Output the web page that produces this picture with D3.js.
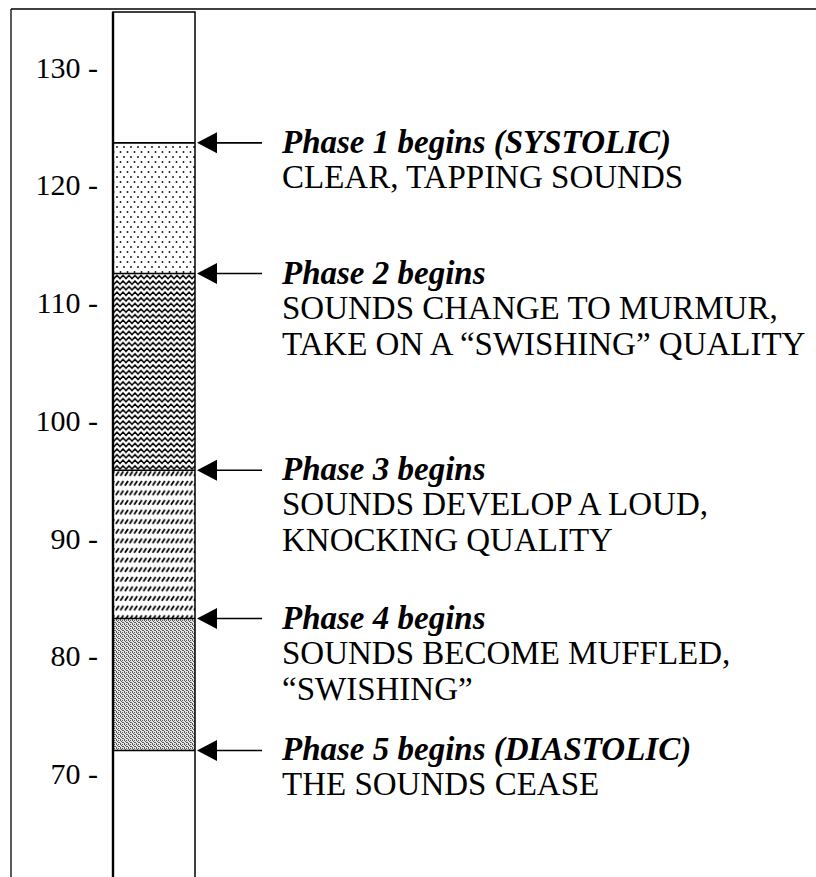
<!DOCTYPE html>
<html><head><meta charset="utf-8">
<script src="https://cdn.jsdelivr.net/npm/d3@7"></script>
<style>html,body{margin:0;padding:0;background:#fff;} svg{display:block;}</style>
</head><body><script>
// ---- data ----
const tickValues = [130, 120, 110, 100, 90, 80, 70];
const phaseTitles = [
  "Phase 1 begins (SYSTOLIC)",
  "Phase 2 begins",
  "Phase 3 begins",
  "Phase 4 begins",
  "Phase 5 begins (DIASTOLIC)"
];
const phaseValues = [123.6, 112.5, 95.8, 83.2, 72.0];
const phaseDescriptions = [
  ["CLEAR, TAPPING SOUNDS"],
  ["SOUNDS CHANGE TO MURMUR,", "TAKE ON A \u201CSWISHING\u201D QUALITY"],
  ["SOUNDS DEVELOP A LOUD,", "KNOCKING QUALITY"],
  ["SOUNDS BECOME MUFFLED,", "\u201CSWISHING\u201D"],
  ["THE SOUNDS CEASE"]
];
const bandPatterns = ["dots", "zigzag", "slashes", "stipple"];

// ---- layout ----
const W = 816, H = 877;
const svg = d3.select("body").append("svg").attr("width", W).attr("height", H);
const y = d3.scaleLinear().domain([70, 130]).range([774, 67.5]);
const colX0 = 113, colX1 = 195, colTop = 12;
const serif = "'Liberation Serif','Times New Roman',serif";

const defs = svg.append("defs");
// dots
const pDots = defs.append("pattern").attr("id", "dots").attr("patternUnits", "userSpaceOnUse")
  .attr("width", 7).attr("height", 10);
pDots.append("rect").attr("width", 7).attr("height", 10).attr("fill", "#fff");
pDots.append("circle").attr("cx", 1.5).attr("cy", 2).attr("r", 0.95).attr("fill", "#111");
pDots.append("circle").attr("cx", 5).attr("cy", 7).attr("r", 0.95).attr("fill", "#111");
// zigzag
const pZig = defs.append("pattern").attr("id", "zigzag").attr("patternUnits", "userSpaceOnUse")
  .attr("width", 6).attr("height", 5.6);
pZig.append("rect").attr("width", 6).attr("height", 5.6).attr("fill", "#fff");
pZig.append("path").attr("d", "M-3,1 L0,4.2 L3,1 L6,4.2 L9,1").attr("fill", "none")
  .attr("stroke", "#000").attr("stroke-width", 1.5);
// slashes
const pSl = defs.append("pattern").attr("id", "slashes").attr("patternUnits", "userSpaceOnUse")
  .attr("width", 4.6).attr("height", 9.6);
pSl.append("rect").attr("width", 4.6).attr("height", 9.6).attr("fill", "#fff");
pSl.append("line").attr("x1", 0.8).attr("y1", 5.5).attr("x2", 3.8).attr("y2", 1)
  .attr("stroke", "#000").attr("stroke-width", 1.8);
// stipple
const pSt = defs.append("pattern").attr("id", "stipple").attr("patternUnits", "userSpaceOnUse")
  .attr("width", 4).attr("height", 4);
pSt.append("rect").attr("width", 4).attr("height", 4).attr("fill", "#e6e6e6");
[[0,0],[2,0],[1,1],[3,2],[0,3],[2,2]].forEach(([a,b]) =>
  pSt.append("rect").attr("x", a).attr("y", b).attr("width", 1).attr("height", 1).attr("fill", "#5a5a5a"));

// outer frame
svg.append("line").attr("x1", 11).attr("y1", 9).attr("x2", 11).attr("y2", H)
  .attr("stroke", "#000").attr("stroke-width", 1.3);
svg.append("line").attr("x1", 11).attr("y1", 9).attr("x2", W).attr("y2", 9)
  .attr("stroke", "#000").attr("stroke-width", 1.3);

// column bands
const bands = bandPatterns.map((p, i) => ({p, top: phaseValues[i], bottom: phaseValues[i + 1]}));
svg.selectAll("rect.band").data(bands).join("rect").attr("class", "band")
  .attr("x", colX0).attr("width", colX1 - colX0)
  .attr("y", d => y(d.top)).attr("height", d => y(d.bottom) - y(d.top))
  .attr("fill", d => `url(#${d.p})`);

// column border
svg.append("rect").attr("x", colX0).attr("y", colTop).attr("width", colX1 - colX0)
  .attr("height", H + 10 - colTop).attr("fill", "none").attr("stroke", "#000").attr("stroke-width", 1.5);
svg.append("line").attr("x1", colX0).attr("x2", colX0).attr("y1", colTop).attr("y2", H)
  .attr("stroke", "#000").attr("stroke-width", 2.4);

// boundary lines
svg.selectAll("line.bound").data(phaseValues).join("line").attr("class", "bound")
  .attr("x1", colX0).attr("x2", colX1).attr("y1", d => y(d)).attr("y2", d => y(d))
  .attr("stroke", "#000").attr("stroke-width", 1.6);

// arrows
const arrows = svg.selectAll("g.arrow").data(phaseValues).join("g").attr("class", "arrow")
  .attr("transform", d => `translate(0,${y(d)})`);
arrows.append("line").attr("x1", 212).attr("x2", 262).attr("y1", 0).attr("y2", 0)
  .attr("stroke", "#000").attr("stroke-width", 1.6);
arrows.append("path").attr("d", `M${colX1 + 2},0 L217,-10.5 L217,10.5 Z`).attr("fill", "#000");

// labels
const labels = svg.selectAll("g.label").data(phaseValues).join("g").attr("class", "label")
  .attr("transform", d => `translate(282,${y(d)})`)
  .style("font-family", serif).style("font-size", "33px");
labels.append("text").attr("y", 10).style("font-weight", "bold").style("font-style", "italic")
  .text((d, i) => phaseTitles[i]);
labels.each(function (d, i) {
  d3.select(this).selectAll("text.desc").data(phaseDescriptions[i]).join("text").attr("class", "desc")
    .attr("y", (t, j) => 45 + j * 36).text(t => t);
});

// axis
const axis = d3.axisLeft(y).tickValues(tickValues).tickSize(0).tickPadding(0)
  .tickFormat(d => d + " -");
const gA = svg.append("g").attr("transform", "translate(98,0)").call(axis);
gA.select(".domain").remove();
gA.selectAll("text").style("font-family", serif)
  .style("font-size", "30px").attr("fill", "#000");
</script></body></html>
